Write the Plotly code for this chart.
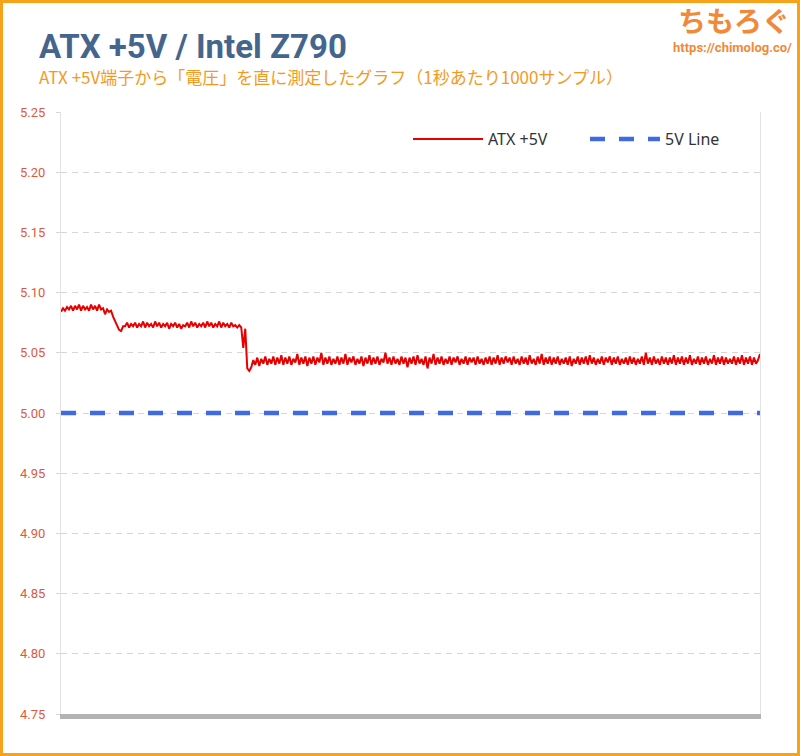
import plotly.graph_objects as go

# ---- data ----
atx_high = [5.084, 5.087, 5.085, 5.088, 5.086, 5.089, 5.085, 5.089, 5.086, 5.090, 5.085, 5.089, 5.086,
            5.088, 5.085, 5.090, 5.086, 5.089, 5.085, 5.090, 5.086, 5.087, 5.082, 5.086, 5.084, 5.085]
atx_step1 = [5.080, 5.076, 5.072, 5.069, 5.068, 5.072]
atx_mid = [5.072, 5.075, 5.071, 5.074, 5.072, 5.075, 5.071, 5.074, 5.072, 5.076,
           5.071, 5.075, 5.072, 5.074, 5.071, 5.076, 5.072, 5.075, 5.071, 5.074,
           5.072, 5.075, 5.070, 5.074, 5.072, 5.075, 5.071, 5.074, 5.070, 5.073,
           5.072, 5.075, 5.071, 5.076, 5.072, 5.075, 5.071, 5.074, 5.072, 5.075,
           5.071, 5.076, 5.072, 5.075, 5.071, 5.074, 5.072, 5.076, 5.071, 5.075,
           5.072, 5.074, 5.071, 5.075, 5.072, 5.073, 5.071, 5.073]
atx_step2 = [5.071, 5.054, 5.070, 5.037, 5.035]
atx_low = [
    5.038, 5.044, 5.040, 5.046, 5.039, 5.045, 5.041, 5.047, 5.040, 5.045, 5.041, 5.047, 5.040, 5.046, 5.041,
    5.048, 5.040, 5.046, 5.041, 5.047, 5.040, 5.045, 5.042, 5.049, 5.040, 5.046, 5.041, 5.047, 5.039, 5.046,
    5.041, 5.047, 5.040, 5.046, 5.042, 5.050, 5.040, 5.046, 5.041, 5.047, 5.040, 5.045, 5.041, 5.047, 5.040,
    5.046, 5.041, 5.049, 5.040, 5.046, 5.042, 5.047, 5.040, 5.045, 5.041, 5.047, 5.039, 5.046, 5.041, 5.048,
    5.040, 5.046, 5.041, 5.047, 5.040, 5.045, 5.042, 5.050, 5.041, 5.046, 5.040, 5.047, 5.041, 5.045, 5.040,
    5.047, 5.041, 5.046, 5.038, 5.046, 5.041, 5.047, 5.040, 5.048, 5.041, 5.045, 5.040, 5.047, 5.037, 5.046,
    5.041, 5.049, 5.040, 5.046, 5.041, 5.047, 5.040, 5.045, 5.041, 5.047, 5.040, 5.046, 5.042, 5.047, 5.040,
    5.045, 5.041, 5.047, 5.040, 5.046, 5.042, 5.046, 5.040, 5.047, 5.041, 5.045, 5.040, 5.046, 5.041, 5.047,
    5.040, 5.046, 5.041, 5.048, 5.040, 5.046, 5.041, 5.047, 5.042, 5.046, 5.040, 5.047, 5.041, 5.045, 5.040,
    5.047, 5.041, 5.046, 5.040, 5.048, 5.041, 5.045, 5.040, 5.047, 5.041, 5.049, 5.040, 5.046, 5.041, 5.047,
    5.040, 5.046, 5.041, 5.047, 5.040, 5.045, 5.041, 5.046, 5.040, 5.047, 5.039, 5.045, 5.041, 5.047, 5.040,
    5.046, 5.041, 5.047, 5.040, 5.048, 5.041, 5.046, 5.040, 5.045, 5.041, 5.047, 5.040, 5.046, 5.042, 5.047,
    5.040, 5.046, 5.041, 5.047, 5.040, 5.045, 5.041, 5.046, 5.040, 5.047, 5.041, 5.046, 5.040, 5.045, 5.041,
    5.047, 5.040, 5.050, 5.041, 5.046, 5.040, 5.047, 5.041, 5.045, 5.040, 5.047, 5.041, 5.046, 5.040, 5.046,
    5.041, 5.048, 5.040, 5.046, 5.041, 5.047, 5.040, 5.046, 5.041, 5.048, 5.040, 5.045, 5.041, 5.047, 5.040,
    5.046, 5.041, 5.047, 5.040, 5.045, 5.041, 5.048, 5.040, 5.046, 5.041, 5.047, 5.040, 5.046, 5.041, 5.045,
    5.041, 5.047, 5.040, 5.046, 5.041, 5.048, 5.040, 5.046, 5.041, 5.047, 5.040, 5.046, 5.041, 5.044, 5.049,
]
five_v_line = [5.0, 5.0]
y_ticks = [4.75, 4.80, 4.85, 4.90, 4.95, 5.00, 5.05, 5.10, 5.15, 5.20, 5.25]

title_text = "ATX +5V / Intel Z790"
subtitle_text = "ATX +5V端子から「電圧」を直に測定したグラフ（1秒あたり1000サンプル）"
series_names = ["ATX +5V", "5V Line"]

atx = atx_high + atx_step1 + atx_mid + atx_step2 + atx_low
xs = list(range(len(atx)))

# ---- layout geometry (pixels) ----
W, H = 800, 756
L, R, T, B = 61, 40, 112, 42
PW, PH = W - L - R, H - T - B


def px(x):
    return (x - L) / PW


def py(y):
    return (H - B - y) / PH


COND = "Roboto, sans-serif"

fig = go.Figure()
fig.add_trace(go.Scatter(
    x=xs, y=atx, mode="lines", name=series_names[0],
    line=dict(color="#e60000", width=2),
))
fig.add_trace(go.Scatter(
    x=[xs[0], xs[-1]], y=five_v_line, mode="lines", name=series_names[1],
    line=dict(color="#4169e1", width=4.5, dash="15px,14px"),
))

fig.update_layout(
    width=W, height=H,
    margin=dict(l=L, r=R, t=T, b=B, autoexpand=False),
    paper_bgcolor="white", plot_bgcolor="white",
    showlegend=True,
    legend=dict(
        orientation="h", x=px(408), y=py(139), xanchor="left", yanchor="middle",
        font=dict(family="Noto Sans, sans-serif", size=16, color="#333333"),
        itemwidth=70, entrywidth=92, bgcolor="rgba(0,0,0,0)", tracegroupgap=0,
    ),
    xaxis=dict(
        range=[xs[0], xs[-1]], showgrid=False, zeroline=False,
        showticklabels=False, ticks="",
        showline=True, linecolor="#b3b3b3", linewidth=5,
    ),
    yaxis=dict(
        range=[4.75, 5.25], tickvals=y_ticks, tickformat=".2f",
        showgrid=True, gridcolor="#d6d6d6", gridwidth=1, griddash="6px,5px",
        zeroline=False,
        ticks="outside", ticklen=4, tickcolor="#d6d6d6",
        ticklabelstandoff=8,
        tickfont=dict(family=COND, size=13, color="#dd5a3c"),
        showline=True, linecolor="#e3e3e3", linewidth=1, mirror=True,
    ),
    annotations=[
        dict(text="<b>" + title_text + "</b>", xref="paper", yref="paper",
             x=px(37), y=py(46), xanchor="left", yanchor="middle", showarrow=False,
             font=dict(family=COND, size=33, color="#44658c")),
        dict(text=subtitle_text, xref="paper", yref="paper",
             x=px(37), y=py(76), xanchor="left", yanchor="middle", showarrow=False,
             font=dict(family="Noto Sans CJK JP, sans-serif", size=17, color="#f39a1e")),
        dict(text="<b>ちもろぐ</b>", xref="paper", yref="paper",
             x=px(792), y=py(20), xanchor="right", yanchor="middle", showarrow=False,
             font=dict(family="Noto Sans CJK JP, sans-serif", size=28, color="#f08a3a")),
        dict(text="<b>https://chimolog.co/</b>", xref="paper", yref="paper",
             x=px(794), y=py(48), xanchor="right", yanchor="middle", showarrow=False,
             font=dict(family=COND, size=13, color="#f08a3a")),
    ],
    shapes=[
        dict(type="rect", xref="paper", yref="paper",
             x0=px(1.5), x1=px(798.5), y0=py(1.5), y1=py(754.5),
             line=dict(color="#f7a21b", width=3), fillcolor="rgba(0,0,0,0)", layer="above"),
    ],
)

fig.write_html(
    "out.html",
    config={"displayModeBar": False},
    post_script="document.body.style.margin='0';document.body.style.overflow='hidden';",
)
